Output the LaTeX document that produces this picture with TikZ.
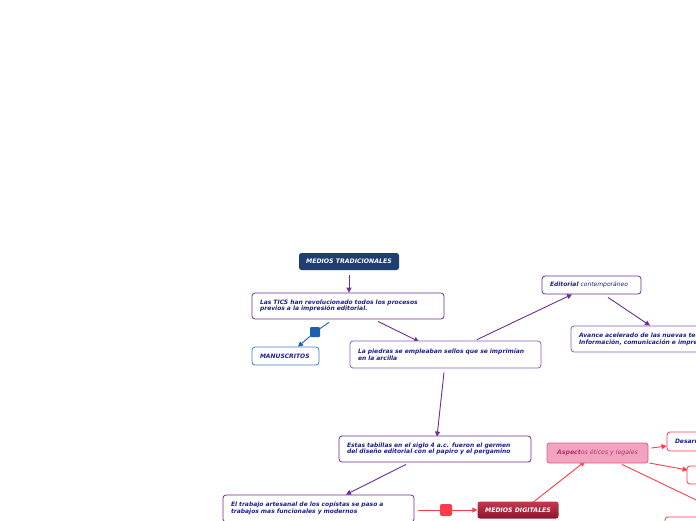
\documentclass[tikz,border=0pt]{standalone}
\usepackage{fontspec}
\newfontfamily\dv{DejaVu Sans}
\usetikzlibrary{arrows.meta,calc,backgrounds}
\definecolor{navytxt}{HTML}{1E1E8C}
\definecolor{purp}{HTML}{6B2E94}
\definecolor{lpurp}{HTML}{8C5CB8}
\definecolor{mtfill}{HTML}{1F3F73}
\definecolor{manub}{HTML}{3C7CC8}
\definecolor{sqblue}{HTML}{1C5FB0}
\definecolor{redl}{HTML}{FF3B4B}
\definecolor{mdtop}{HTML}{C23A52}
\definecolor{mdbot}{HTML}{8E1428}
\definecolor{aspfill}{HTML}{F2A3C0}
\definecolor{aspb}{HTML}{E05A80}
\definecolor{asptxt}{HTML}{B8306A}
\tikzset{
  tbox/.style={draw=purp, line width=0.8pt, rounded corners=3pt, fill=white,
    font=\dv\bfseries\itshape\fontsize{6}{6.6}\selectfont, text=navytxt,
    align=left, inner xsep=8pt, inner ysep=0pt, anchor=center},
  hbox/.style={rounded corners=2.5pt, font=\dv\bfseries\itshape\fontsize{6.2}{7}\selectfont,
    text=white, align=center, inner sep=0pt, anchor=center},
  parr/.style={draw=purp, line width=0.9pt, -{Triangle[length=5pt,width=5pt]}},
  rarr/.style={draw=redl, line width=0.9pt, -{Triangle[length=5pt,width=5pt]}},
  rline/.style={draw=redl, line width=0.9pt},
}
\begin{document}
\begin{tikzpicture}[x=1pt,y=-1pt]
\useasboundingbox (0,0) rectangle (696,520);
\clip (0,0) rectangle (696,520);
% nodes
\node[hbox, fill=mtfill, minimum width=100pt, minimum height=17pt] (mt) at (349,261.5) {MEDIOS TRADICIONALES};
\node[tbox, minimum width=192pt, minimum height=26pt, text width=176pt] (tics) at (348,306)
  {Las TICS han revolucionado todos los procesos\\previos a la impresión editorial.};
\node[tbox, draw=manub, minimum width=67pt, minimum height=18pt, text width=51pt] (manu) at (285.5,356) {MANUSCRITOS};
\node[tbox, draw=lpurp, minimum width=191pt, minimum height=27pt, text width=175pt] (piedras) at (445.5,354.5)
  {La piedras se empleaban sellos que se imprimían\\en la arcilla};
\node[tbox, draw=purp, minimum width=99pt, minimum height=18pt, text width=83pt] (edit) at (591.5,285)
  {Editorial {\mdseries contemporáneo}};
\node[tbox, draw=lpurp, minimum width=210pt, minimum height=26pt, text width=194pt] (avance) at (676,339)
  {Avance acelerado de las nuevas tecnologías de la\\Información, comunicación e impresión};
\node[tbox, minimum width=192pt, minimum height=26pt, text width=176pt] (estas) at (435,449)
  {Estas tabillas en el siglo 4 a.c. fueron el germen\\del diseño editorial con el papiro y el pergamino};
\node[tbox, minimum width=191pt, minimum height=27pt, text width=175pt] (trabajo) at (318.5,508.5)
  {El trabajo artesanal de los copistas se paso a\\trabajos mas funcionales y modernos};
\node[hbox, shade, top color=mdtop, bottom color=mdbot, minimum width=81pt, minimum height=17pt] (md) at (518,510) {MEDIOS DIGITALES};
\node[hbox, fill=aspfill, draw=aspb, line width=0.8pt, text=asptxt, minimum width=101pt, minimum height=20pt] (asp) at (597.5,453)
  {Aspect{\mdseries os éticos y legales}};
\node[tbox, draw=redl, minimum width=92pt, minimum height=19pt, text width=76pt] (des) at (713,441.5) {Desarrollo};
\node[tbox, draw=redl, minimum width=96pt, minimum height=18pt, text width=80pt] (box2) at (735,475) {};
\node[tbox, draw=redl, minimum width=96pt, minimum height=20pt, text width=80pt] (box3) at (713,527) {};
\node[fill=sqblue, minimum size=10pt, inner sep=0pt, rounded corners=1pt] (sq1) at (315,332) {};
\node[fill=redl, minimum size=12pt, inner sep=0pt, rounded corners=2pt] (sq2) at (446,510) {};
\coordinate (offp) at (740,521);
% connectors
\begin{scope}[on background layer]
\draw[parr] ($(mt.south)+(0,5)$) -- (mt.south |- tics.north);
\draw[draw=sqblue, line width=0.9pt] ($(tics.south)+(-19,3)$) -- (sq1);
\draw[draw=sqblue, line width=0.9pt, -{Triangle[length=5pt,width=5pt]}] (sq1) -- ($(manu.north)+(12.5,0)$);
\draw[parr] ($(tics.south)+(30,2)$) -- ($(piedras.north)+(-26.5,1)$);
\draw[parr] ($(piedras.north)+(31.5,-1)$) -- ($(edit.south)+(-19.5,0)$);
\draw[parr] ($(edit.south)+(16.5,3)$) -- ($(avance.north)+(-26,0)$);
\draw[parr] ($(piedras.south)+(-1.5,4)$) -- ($(estas.north)+(2,1)$);
\draw[parr] ($(estas.south)+(-29,2)$) -- ($(trabajo.north)+(27.5,0)$);
\draw[rline] ($(trabajo.east)+(4,1.5)$) -- (sq2);
\draw[rarr] (sq2) -- (md.west);
\draw[rarr] ($(md.north)+(15,1)$) -- ($(asp.south)+(-12.5,-2)$);
\draw[rarr] ($(asp.east)+(3,-5)$) -- ($(des.west)+(0,4.5)$);
\draw[rarr] ($(asp.east)+(1,10)$) -- ($(box2.west)+(1,-5)$);
\draw[rline] ($(asp.south)+(24.5,1)$) -- (offp);
\end{scope}
\end{tikzpicture}
\end{document}
